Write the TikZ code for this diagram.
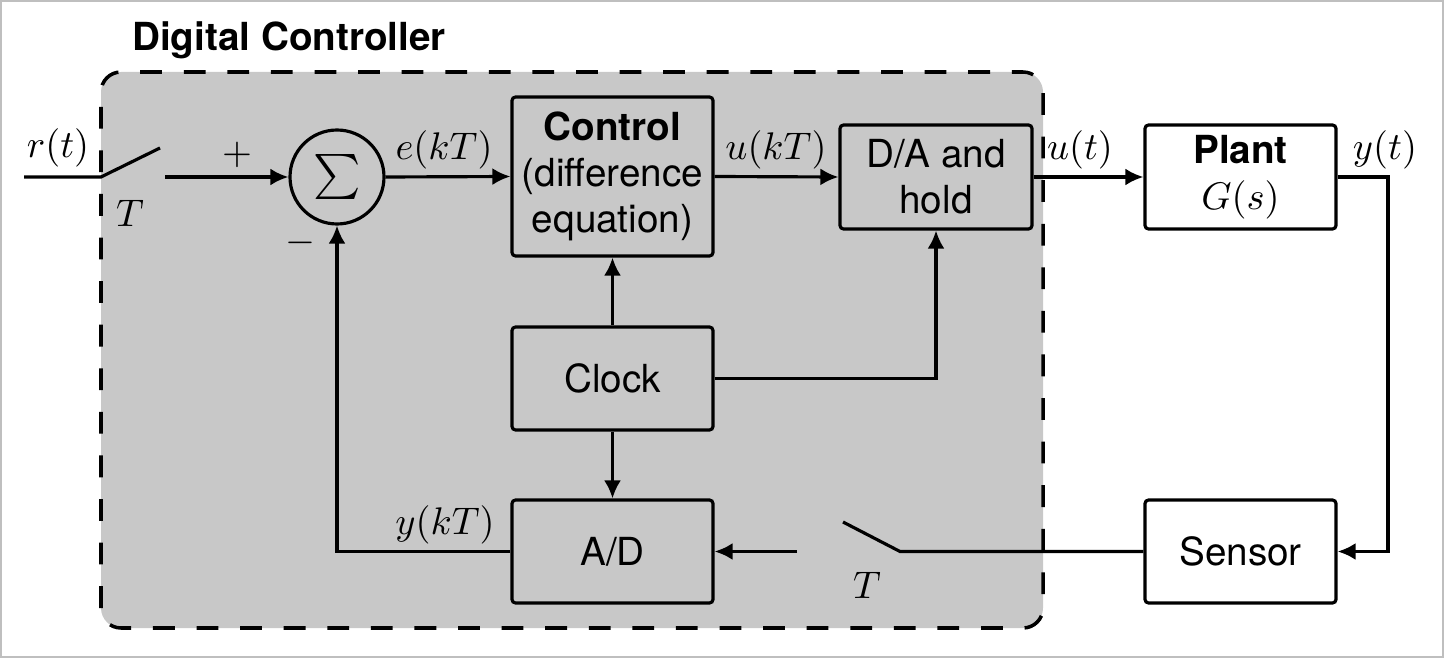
\documentclass[tikz,border=0pt]{standalone}
\usepackage[no-math]{fontspec}
\usepackage{graphicx}
\setsansfont{TeX Gyre Heros}
\usetikzlibrary{arrows.meta,positioning}
\definecolor{ctrlgray}{RGB}{200,200,200}

\begin{document}
\begin{tikzpicture}[font=\sffamily\fontsize{11}{13}\selectfont,line width=0.9pt,
  blk/.style={draw,rounded corners=1pt,minimum width=2.01cm,minimum height=1.03cm,align=center,inner sep=1pt},
  sig/.style={-{Latex[length=1.8mm,width=1.7mm]}}]
\useasboundingbox (0,0) rectangle (14.44,6.58);
\draw[black!25,line width=0.6pt] (0.01,0.01) rectangle (14.43,6.57);
% controller area
\draw[fill=ctrlgray,line width=1pt,dash pattern=on 6.2pt off 6.2pt,rounded corners=0.2cm] (1.01,0.30) rectangle (10.43,5.86);
\node[font=\sffamily\bfseries\fontsize{11}{13}\selectfont] (title) at (2.89,6.18) {Digital Controller};
% blocks
\node[draw,circle,minimum size=0.94cm,inner sep=0pt] (sum) at (3.37,4.81) {\scalebox{1.28}{$\sum$}};
\node[blk,minimum height=1.59cm] (ctrl) at (6.125,4.815) {\textbf{Control}\\(difference\\equation)};
\node[blk,minimum width=1.92cm,minimum height=1.04cm] (da) at (9.36,4.81) {D/A and\\hold};
\node[blk,fill=white,minimum width=1.91cm,minimum height=1.04cm] (plant) at (12.405,4.81) {\textbf{Plant}\\$G(s)$};
\node[blk] (clock) at (6.125,2.795) {Clock};
\node[blk] (ad) at (6.125,1.065) {A/D};
\node[blk,fill=white,minimum width=1.91cm] (sensor) at (12.405,1.065) {Sensor};
% input sampler
\coordinate (rin) at (0.24,4.81);
\coordinate (sw1) at (1.01,4.81);
\coordinate (sw1top) at (1.60,5.10);
\coordinate (sw1out) at (1.65,4.81);
\draw (rin) -- (sw1) -- (sw1top);
\draw[sig] (sw1out) -- (sum.west);
\node (rt) at (0.58,5.10) {$r(t)$};
\node (t1) at (1.30,4.45) {$T$};
\node (plus) at (2.37,5.03) {$+$};
\node (minus) at (3.00,4.15) {$-$};
% forward path
\draw[sig] (sum.east) -- (ctrl.west);
\draw[sig] (ctrl.east) -- (da.west);
\draw[sig] (da.east) -- (plant.west);
\node (ekt) at (4.44,5.08) {$e(kT)$};
\node (ukt) at (7.76,5.08) {$u(kT)$};
\node (ut) at (10.80,5.08) {$u(t)$};
\node (yt) at (13.85,5.08) {$y(t)$};
% clock lines
\draw[sig] (clock.north) -- (ctrl.south);
\draw[sig] (clock.south) -- (ad.north);
\draw[sig] (clock.east) -| (da.south);
% feedback
\coordinate (ycorner) at (13.88,4.81);
\draw[sig] (plant.east) -- (ycorner) |- (sensor.east);
\coordinate (sw2) at (9.00,1.065);
\coordinate (sw2top) at (8.43,1.36);
\coordinate (sw2out) at (7.97,1.065);
\draw (sensor.west) -- (sw2) -- (sw2top);
\draw[sig] (sw2out) -- (ad.east);
\node (t2) at (8.67,0.73) {$T$};
\draw[sig] (ad.west) -| (sum.south);
\node (ykt) at (4.45,1.33) {$y(kT)$};
\end{tikzpicture}
\end{document}
